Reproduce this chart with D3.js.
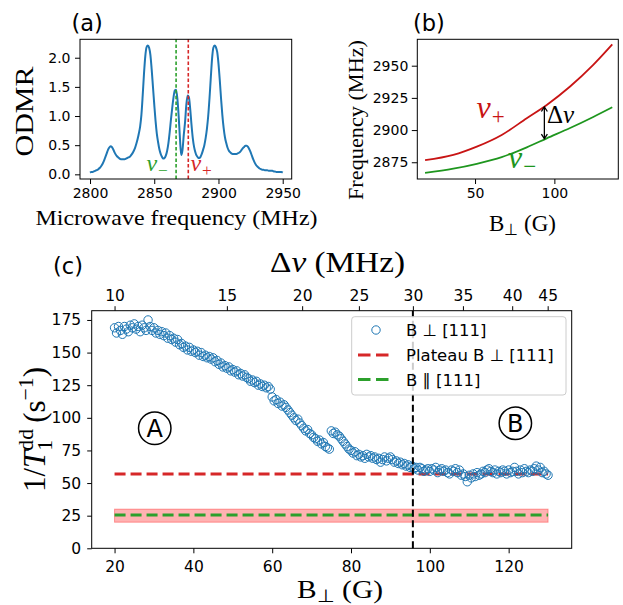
<!DOCTYPE html>
<html><head><meta charset="utf-8">
<script src="https://cdn.jsdelivr.net/npm/d3@7"></script>
<style>body{margin:0;background:#fff}</style>
</head><body>
<svg id="chart" width="623" height="605"></svg>
<script>
// ---------- Panel (a): ODMR spectrum ----------
const odmrFreq = [2800,2801,2802,2803,2804,2805,2806,2807,2808,2809,2810,2811,2812,2813,2814,2815,2816,2817,2818,2819,
2820,2821,2822,2823,2824,2825,2826,2827,2828,2829,2830,2831,2832,2833,2834,2835,2836,2837,2838,2839,
2840,2841,2842,2843,2844,2845,2846,2847,2848,2849,2850,2851,2852,2853,2854,2855,2856,2857,2858,2859,
2860,2861,2862,2863,2864,2865,2866,2867,2868,2869,2870,2871,2872,2873,2874,2875,2876,2877,2878,2879,
2880,2881,2882,2883,2884,2885,2886,2887,2888,2889,2890,2891,2892,2893,2894,2895,2896,2897,2898,2899,
2900,2901,2902,2903,2904,2905,2906,2907,2908,2909,2910,2911,2912,2913,2914,2915,2916,2917,2918,2919,
2920,2921,2922,2923,2924,2925,2926,2927,2928,2929,2930,2931,2932,2933,2934,2935,2936,2937,2938,2939,
2940,2941,2942,2943,2944,2945,2946,2947,2948,2949,2950];
const odmrSignal = [0.03,0.04,0.04,0.05,0.06,0.07,0.08,0.10,0.12,0.15,
0.19,0.24,0.30,0.36,0.42,0.46,0.48,0.47,0.43,0.38,
0.34,0.31,0.29,0.27,0.26,0.26,0.26,0.26,0.27,0.28,
0.29,0.30,0.33,0.36,0.40,0.45,0.52,0.60,0.70,0.82,
1.02,1.35,1.72,2.02,2.18,2.21,2.17,2.05,1.80,1.50,
1.20,0.92,0.70,0.55,0.43,0.35,0.30,0.27,0.28,0.32,
0.40,0.53,0.72,0.94,1.14,1.32,1.44,1.45,1.30,1.00,
0.62,0.33,0.42,0.68,0.90,1.20,1.35,1.32,1.12,0.85,
0.62,0.47,0.38,0.32,0.29,0.28,0.30,0.35,0.42,0.50,
0.62,0.78,1.00,1.30,1.65,1.98,2.17,2.21,2.18,2.10,
1.90,1.62,1.30,1.02,0.80,0.64,0.54,0.46,0.41,0.38,
0.36,0.35,0.35,0.35,0.35,0.36,0.37,0.39,0.42,0.45,
0.47,0.49,0.49,0.47,0.43,0.38,0.32,0.26,0.21,0.17,
0.14,0.12,0.10,0.09,0.08,0.08,0.07,0.07,0.07,0.06,
0.06,0.06,0.06,0.05,0.05,0.04,0.04,0.04,0.04,0.04,0.03];
const odmrXTicks = [2800,2850,2900,2950];
const odmrYTicks = [0.0,0.5,1.0,1.5,2.0];
const nuMinusFreq = 2867;
const nuPlusFreq = 2876.5;

// ---------- Panel (b): transition frequencies vs B_perp ----------
const bFieldB = [18.5,36.3,51.1,66.8,82.6,95.2,109.9,124.5,136.5];
const nuPlusB = [2876.6,2880.7,2887.1,2896.2,2909.2,2919.5,2933.8,2950.6,2966.5];
const nuMinusB = [2866.7,2870.0,2873.8,2879.0,2886.6,2893.6,2901.6,2910.2,2917.7];
const bXTicks = [50,100];
const bYTicks = [2875,2900,2925,2950];
const deltaArrow = {field: 93.7, top: 2918.3, bottom: 2893.0};

// ---------- Panel (c): relaxation rate vs B_perp ----------
const fieldC = [20,20.5,21,21.5,22,22.5,23,23.5,24,24.5,
25,25.5,26,26.5,27,27.5,28,28.5,29,29.5,
30,30.5,31,31.5,32,32.5,33,33.5,34,34.5,
35,35.5,36,36.5,37,37.5,38,38.5,39,39.5,
40,40.5,41,41.5,42,42.5,43,43.5,44,44.5,
45,45.5,46,46.5,47,47.5,48,48.5,49,49.5,
50,50.5,51,51.5,52,52.5,53,53.5,54,54.5,
55,55.5,56,56.5,57,57.5,58,58.5,59,59.5,
60,60.5,61,61.5,62,62.5,63,63.5,64,64.5,
65,65.5,66,66.5,67,67.5,68,68.5,69,69.5,
70,70.5,71,71.5,72,72.5,73,73.5,74,74.5,
75,75.5,76,76.5,77,77.5,78,78.5,79,79.5,
80,80.5,81,81.5,82,82.5,83,83.5,84,84.5,
85,85.5,86,86.5,87,87.5,88,88.5,89,89.5,
90,90.5,91,91.5,92,92.5,93,93.5,94,94.5,
95,95.5,96,96.5,97,97.5,98,98.5,99,99.5,
100,100.5,101,101.5,102,102.5,103,103.5,104,104.5,
105,105.5,106,106.5,107,107.5,108,108.5,109,109.5,
110,110.5,111,111.5,112,112.5,113,113.5,114,114.5,
115,115.5,116,116.5,117,117.5,118,118.5,119,119.5,
120,120.5,121,121.5,122,122.5,123,123.5,124,124.5,
125,125.5,126,126.5,127,127.5,128,128.5,129,129.5,130];
const rateC = [169,165,170,167,164,170,168,166,171,169,
172,168,170,166,171,169,167,175,170,167,
169,165,167,164,166,163,165,161,163,160,
161,158,160,156,157,154,155,152,154,151,
152,150,151,148,150,147,148,146,147,145,
146,143,144,141,142,139,140,138,139,136,
137,135,136,133,134,132,133,131,130,128,
129,127,128,125,126,124,125,123,124,122,
116,113,114,111,112,109,110,108,106,104,
102,100,98,99,96,94,92,90,91,88,
87,85,84,82,83,80,81,78,77,76,
90,88,89,87,86,84,82,80,78,76,
75,73,74,71,72,70,71,69,72,70,
71,69,70,68,69,66,68,70,67,69,
70,68,66,67,65,66,64,65,63,64,
62,63,61,62,60,62,61,59,60,61,
59,61,60,62,58,60,61,59,60,58,
57,60,59,61,58,60,56,57,55,51,
56,54,57,55,58,56,57,59,58,60,
61,59,58,60,57,59,58,60,59,57,
60,58,59,62,59,57,60,58,61,59,
58,60,59,61,63,60,62,58,59,57,56];
const cXTicks = [20,40,60,80,100,120];
const cYTicks = [0,25,50,75,100,125,150,175];
const dnuTickLabels = [10,15,20,25,30,35,40,45];
const dnuTickFields = [20.0,48.5,67.6,82.0,95.7,108.4,120.9,129.9];
const plateauRate = 57;
const parallelRate = 25.5;
const parallelBand = [20, 30];
const lineRange = [20, 130];
const crossoverField = 95.7;
const legendLabels = ["B \u22A5 [111]", "Plateau B \u22A5 [111]", "B \u2225 [111]"];
const regionMarks = [{t:"A", field:30.2, rate:92}, {t:"B", field:121.7, rate:95.8}];

// ---------- drawing ----------
const svg = d3.select('#chart');
const SANS = 'DejaVu Sans';
const SERIF = 'Liberation Serif';
const BLUE = '#1f77b4';

function styleAxis(g, fs) {
  g.select('.domain').remove();
  g.selectAll('.tick line').attr('stroke', '#000').attr('stroke-width', 1);
  g.selectAll('.tick text').attr('font-family', SANS).attr('font-size', fs).attr('fill', '#000');
  return g;
}
function box(x, y) {
  const [x0, x1] = x.range(), [y0, y1] = y.range();
  svg.append('rect').attr('x', x0).attr('y', y1).attr('width', x1 - x0).attr('height', y0 - y1)
    .attr('fill', 'none').attr('stroke', '#000').attr('stroke-width', 1);
}

// Panel (a)
const xA = d3.scaleLinear().domain([2792.2, 2957]).range([80, 291.7]);
const yA = d3.scaleLinear().domain([-0.08, 2.316]).range([179, 39.3]);
const gA = svg.append('g');
gA.append('path').datum(odmrFreq.map((f, i) => [f, odmrSignal[i]]))
  .attr('fill', 'none').attr('stroke', BLUE).attr('stroke-width', 2)
  .attr('d', d3.line().x(d => xA(d[0])).y(d => yA(d[1])).curve(d3.curveMonotoneX));
[[nuMinusFreq, '#2ca02c'], [nuPlusFreq, '#d62728']].forEach(([f, c]) => {
  gA.append('line').attr('x1', xA(f)).attr('x2', xA(f)).attr('y1', yA.range()[0]).attr('y2', yA.range()[1])
    .attr('stroke', c).attr('stroke-width', 1.6).attr('stroke-dasharray', '3.5,2.2');
});
box(xA, yA);
styleAxis(svg.append('g').attr('transform', 'translate(0,179)')
  .call(d3.axisBottom(xA).tickValues(odmrXTicks).tickSize(5).tickPadding(4.5).tickFormat(d3.format('d'))), 14);
styleAxis(svg.append('g').attr('transform', 'translate(80,0)')
  .call(d3.axisLeft(yA).tickValues(odmrYTicks).tickSize(5).tickPadding(4.5).tickFormat(d3.format('.1f'))), 14);

function nuLabel(x, y, sub, color, fs) {
  const t = svg.append('text').attr('x', x).attr('y', y).attr('font-family', SERIF)
    .attr('font-size', fs).attr('fill', color);
  t.append('tspan').attr('font-style', 'italic').text('\u03BD');
  t.append('tspan').attr('font-size', fs * 0.72).attr('dx', fs * 0.03).attr('dy', fs * 0.2).text(sub);
  return t;
}
nuLabel(146.5, 171, '\u2212', '#2ca02c', 24);
nuLabel(190.5, 171, '+', '#d62728', 24);

svg.append('text').attr('x', 176.5).attr('y', 224.5).attr('text-anchor', 'middle')
  .attr('font-family', SERIF).attr('font-size', 22).attr('textLength', 282).attr('lengthAdjust', 'spacingAndGlyphs')
  .text('Microwave frequency (MHz)');
svg.append('text').attr('transform', 'translate(33,111.5) rotate(-90)').attr('text-anchor', 'middle')
  .attr('font-family', SERIF).attr('font-size', 25).attr('textLength', 90).attr('lengthAdjust', 'spacingAndGlyphs')
  .text('ODMR');
svg.append('text').attr('x', 71.5).attr('y', 30.5).attr('font-family', SANS).attr('font-size', 22.5).text('(a)');

// Panel (b)
const xB = d3.scaleLinear().domain([13.6, 140.3]).range([417.3, 618.3]);
const yB = d3.scaleLinear().domain([2862, 2970.5]).range([179, 39.3]);
const lineB = d3.line().x(d => xB(d[0])).y(d => yB(d[1])).curve(d3.curveMonotoneX);
svg.append('path').datum(bFieldB.map((b, i) => [b, nuPlusB[i]]))
  .attr('fill', 'none').attr('stroke', '#c81414').attr('stroke-width', 1.8).attr('d', lineB);
svg.append('path').datum(bFieldB.map((b, i) => [b, nuMinusB[i]]))
  .attr('fill', 'none').attr('stroke', '#1e961e').attr('stroke-width', 1.8).attr('d', lineB);
box(xB, yB);
styleAxis(svg.append('g').attr('transform', 'translate(0,179)')
  .call(d3.axisBottom(xB).tickValues(bXTicks).tickSize(5).tickPadding(4.5).tickFormat(d3.format('d'))), 14);
styleAxis(svg.append('g').attr('transform', 'translate(417.3,0)')
  .call(d3.axisLeft(yB).tickValues(bYTicks).tickSize(5.5).tickPadding(3.5).tickFormat(d3.format('d'))), 14);
// double arrow
{
  const ax = xB(deltaArrow.field), ay1 = yB(deltaArrow.top), ay2 = yB(deltaArrow.bottom);
  svg.append('line').attr('x1', ax).attr('x2', ax).attr('y1', ay1 + 0.5).attr('y2', ay2 - 0.5)
    .attr('stroke', '#000').attr('stroke-width', 1.3);
  svg.append('path').attr('d', `M${ax - 3},${ay1 + 5}L${ax},${ay1 + 0.5}L${ax + 3},${ay1 + 5}`)
    .attr('fill', 'none').attr('stroke', '#000').attr('stroke-width', 1.3);
  svg.append('path').attr('d', `M${ax - 3},${ay2 - 5}L${ax},${ay2 - 0.5}L${ax + 3},${ay2 - 5}`)
    .attr('fill', 'none').attr('stroke', '#000').attr('stroke-width', 1.3);
}
{
  const t = svg.append('text').attr('x', 547).attr('y', 122.5).attr('font-family', SERIF).attr('font-size', 25);
  t.append('tspan').text('\u0394');
  t.append('tspan').attr('font-style', 'italic').text('\u03BD');
}
nuLabel(476.5, 118, '+', '#c81414', 32);
nuLabel(508, 168, '\u2212', '#1e961e', 32);
function bPerp(x, y, fs, len) {
  const t = svg.append('text').attr('x', x).attr('y', y).attr('text-anchor', 'middle')
    .attr('font-family', SERIF).attr('font-size', fs);
  if (len) t.attr('textLength', len).attr('lengthAdjust', 'spacingAndGlyphs');
  t.append('tspan').text('B');
  t.append('tspan').attr('font-size', fs * 0.7).attr('dy', fs * 0.18).text('\u22A5');
  t.append('tspan').attr('dy', -fs * 0.18).text(' (G)');
  return t;
}
bPerp(522.5, 231, 23);
svg.append('text').attr('transform', 'translate(363,120) rotate(-90)').attr('text-anchor', 'middle')
  .attr('font-family', SERIF).attr('font-size', 21).attr('textLength', 160).attr('lengthAdjust', 'spacingAndGlyphs')
  .text('Frequency (MHz)');
svg.append('text').attr('x', 413).attr('y', 30.5).attr('font-family', SANS).attr('font-size', 22.5).text('(b)');

// Panel (c)
const xC = d3.scaleLinear().domain([14.2, 136.0]).range([91.7, 571.7]);
const yC = d3.scaleLinear().domain([0, 182.1]).range([548.3, 310.7]);
svg.append('rect').attr('x', xC(lineRange[0])).attr('y', yC(parallelBand[1]))
  .attr('width', xC(lineRange[1]) - xC(lineRange[0])).attr('height', yC(parallelBand[0]) - yC(parallelBand[1]))
  .attr('fill', 'red').attr('fill-opacity', 0.3).attr('stroke', 'red').attr('stroke-opacity', 0.35).attr('stroke-width', 1);
svg.append('line').attr('x1', xC(lineRange[0])).attr('x2', xC(lineRange[1]))
  .attr('y1', yC(parallelRate)).attr('y2', yC(parallelRate))
  .attr('stroke', '#2ca02c').attr('stroke-width', 3).attr('stroke-dasharray', '11,5');
svg.append('line').attr('x1', xC(lineRange[0])).attr('x2', xC(lineRange[1]))
  .attr('y1', yC(plateauRate)).attr('y2', yC(plateauRate))
  .attr('stroke', '#d62728').attr('stroke-width', 3).attr('stroke-dasharray', '11,5');
svg.append('g').selectAll('circle').data(fieldC.map((b, i) => [b, rateC[i]])).join('circle')
  .attr('cx', d => xC(d[0])).attr('cy', d => yC(d[1])).attr('r', 4.2)
  .attr('fill', 'none').attr('stroke', BLUE).attr('stroke-width', 1);
svg.append('line').attr('x1', xC(crossoverField)).attr('x2', xC(crossoverField))
  .attr('y1', yC.range()[0]).attr('y2', yC.range()[1])
  .attr('stroke', '#000').attr('stroke-width', 2).attr('stroke-dasharray', '7,3.5');
regionMarks.forEach(m => {
  const cx = xC(m.field), cy = yC(m.rate);
  svg.append('circle').attr('cx', cx).attr('cy', cy).attr('r', 16.2).attr('fill', 'none')
    .attr('stroke', '#000').attr('stroke-width', 1.5);
  svg.append('text').attr('x', cx).attr('y', cy + 8.6).attr('text-anchor', 'middle')
    .attr('font-family', SANS).attr('font-size', 24).text(m.t);
});
box(xC, yC);
styleAxis(svg.append('g').attr('transform', 'translate(0,548.3)')
  .call(d3.axisBottom(xC).tickValues(cXTicks).tickSize(5).tickPadding(8)), 15.5);
styleAxis(svg.append('g').attr('transform', 'translate(91.7,0)')
  .call(d3.axisLeft(yC).tickValues(cYTicks).tickSize(4.5).tickPadding(6)), 15.5);
styleAxis(svg.append('g').attr('transform', 'translate(0,310.7)')
  .call(d3.axisTop(xC).tickValues(dnuTickFields).tickSize(4.5).tickPadding(5)
    .tickFormat((d, i) => dnuTickLabels[i])), 15.5);

// legend
{
  const lg = svg.append('g');
  lg.append('rect').attr('x', 351.7).attr('y', 316.7).attr('width', 214.3).attr('height', 78.3)
    .attr('rx', 3).attr('fill', '#fff').attr('fill-opacity', 0.8).attr('stroke', '#cccccc').attr('stroke-width', 1);
  const rows = [330, 355, 379.5];
  lg.append('circle').attr('cx', 376).attr('cy', rows[0]).attr('r', 4.2).attr('fill', 'none')
    .attr('stroke', BLUE).attr('stroke-width', 1);
  lg.append('line').attr('x1', 358).attr('x2', 389).attr('y1', rows[1]).attr('y2', rows[1])
    .attr('stroke', '#d62728').attr('stroke-width', 3).attr('stroke-dasharray', '12.5,5.5');
  lg.append('line').attr('x1', 358).attr('x2', 389).attr('y1', rows[2]).attr('y2', rows[2])
    .attr('stroke', '#2ca02c').attr('stroke-width', 3).attr('stroke-dasharray', '12.5,5.5');
  legendLabels.forEach((s, i) => {
    lg.append('text').attr('x', 406).attr('y', rows[i] + 6).attr('font-family', SANS)
      .attr('font-size', 16.5).text(s);
  });
}

// labels (c)
{
  const t = svg.append('text').attr('x', 337.5).attr('y', 272).attr('text-anchor', 'middle')
    .attr('font-family', SERIF).attr('font-size', 30).attr('textLength', 135).attr('lengthAdjust', 'spacingAndGlyphs');
  t.append('tspan').text('\u0394');
  t.append('tspan').attr('font-style', 'italic').text('\u03BD');
  t.append('tspan').text(' (MHz)');
}
bPerp(340, 597.5, 26, 86);
{
  const fs = 31, s = fs * 0.7;
  const t = svg.append('text').attr('transform', 'translate(45,429.5) rotate(-90)').attr('text-anchor', 'middle')
    .attr('font-family', SERIF).attr('font-size', fs);
  t.append('tspan').text('1/');
  t.append('tspan').attr('font-style', 'italic').text('T');
  t.append('tspan').attr('font-size', s).attr('dy', 7).text('1');
  t.append('tspan').attr('font-size', s).attr('dx', -s * 0.5).attr('dy', -19).text('dd');
  t.append('tspan').attr('dy', 12).text('\u2009(s');
  t.append('tspan').attr('font-size', s).attr('dy', -12).text('\u22121');
  t.append('tspan').attr('dy', 12).text(')');
}
svg.append('text').attr('x', 53).attr('y', 274).attr('font-family', SANS).attr('font-size', 22.5).text('(c)');
</script>
</body></html>
